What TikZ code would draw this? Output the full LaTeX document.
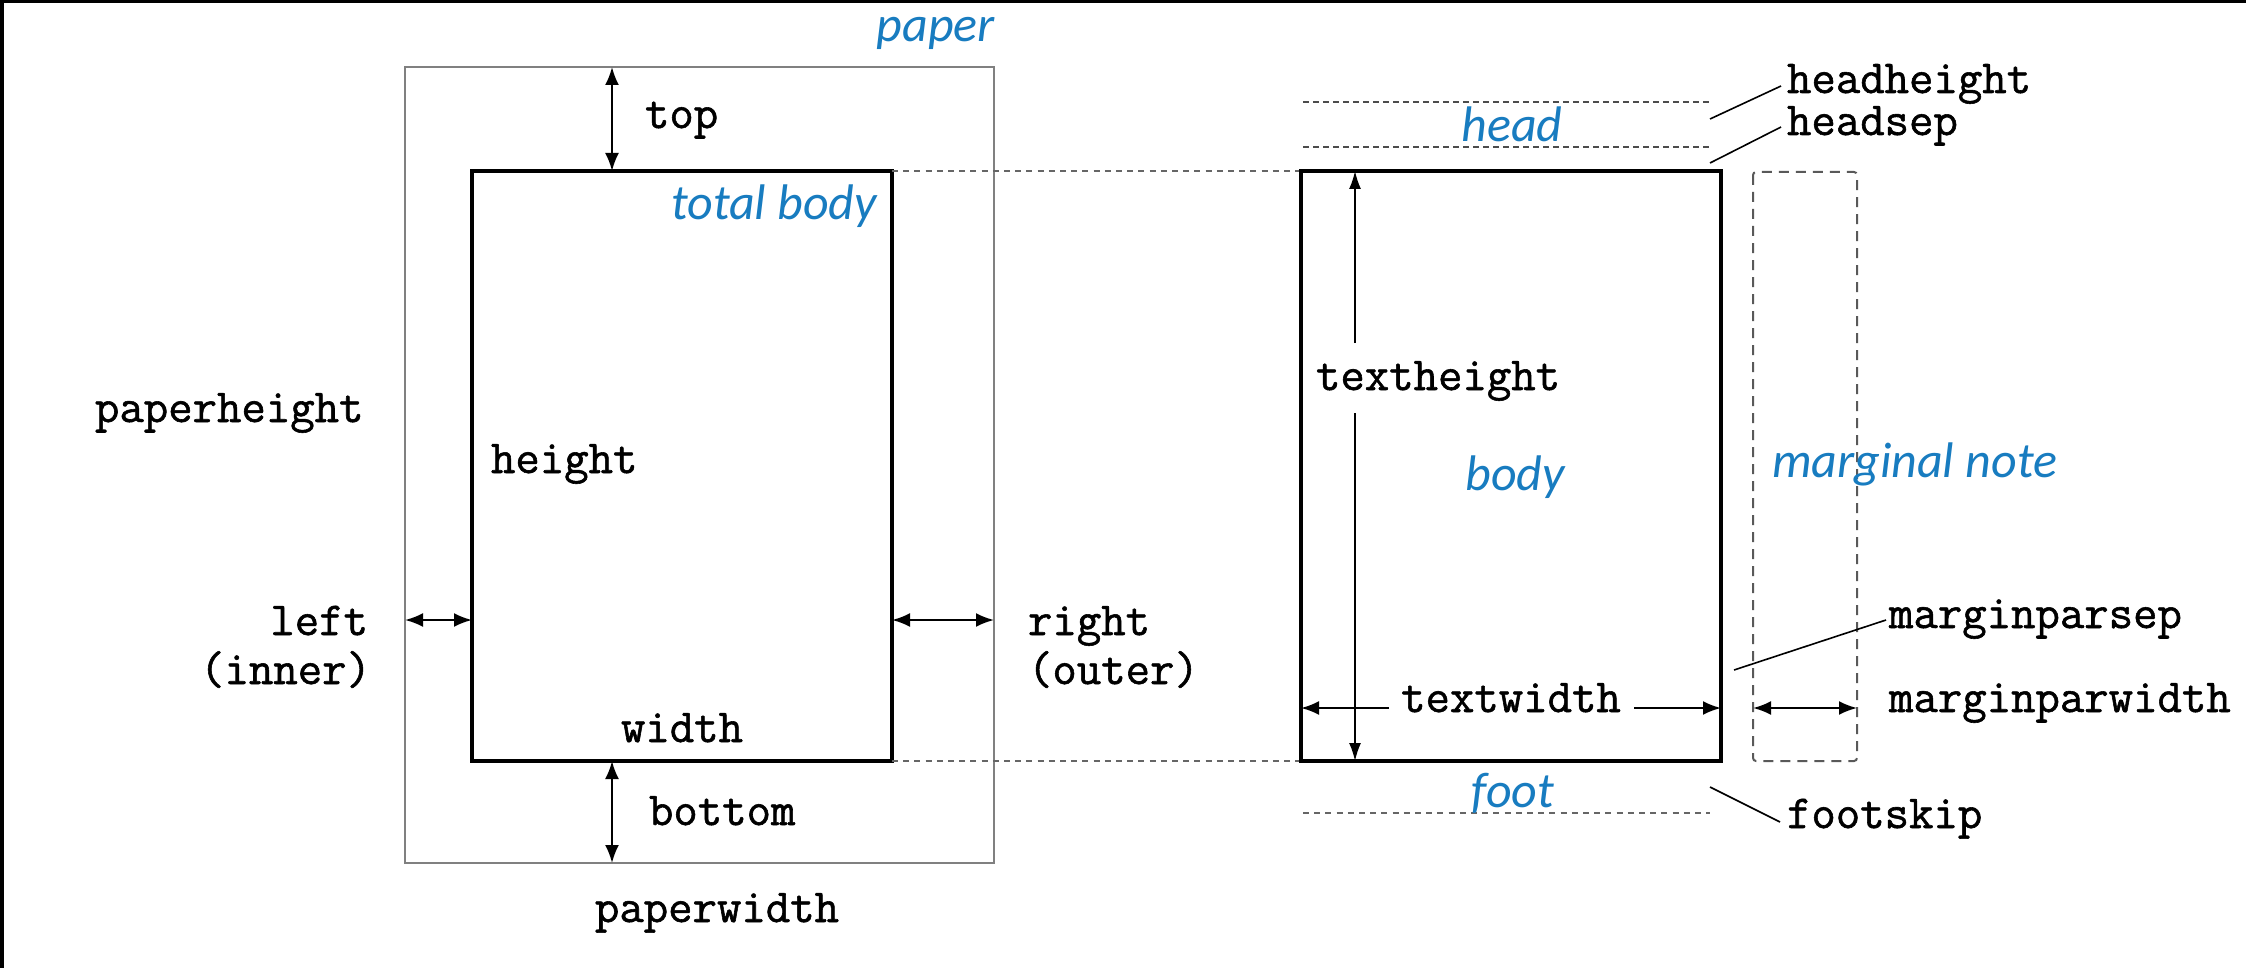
\documentclass[tikz,border=0pt]{standalone}
\usepackage{fontspec}
\usetikzlibrary{arrows.meta}
\newfontfamily\labelfont{Carlito}
\newfontfamily\ttlab{Latin Modern Mono}[FakeBold=1.2]
\definecolor{lblue}{RGB}{24,124,192}
\begin{document}
\begin{tikzpicture}[x=0.5pt,y=-0.5pt,
  tt/.style={font=\fontsize{23.7}{28}\selectfont\ttlab, inner sep=0pt, outer sep=0pt},
  blu/.style={font=\fontsize{25}{30}\selectfont\labelfont\itshape, text=lblue, inner sep=0pt, outer sep=0pt},
  paperline/.style={draw=black!50, line width=1.3pt},
  bodyline/.style={draw=black, line width=1.7pt},
  dotline/.style={draw=black!60, line width=1pt, dash pattern=on 3pt off 2.6pt},
  dashline/.style={draw=black!70, line width=1pt, dash pattern=on 3pt off 2pt},
  mbox/.style={draw=black!65, line width=1pt, dash pattern=on 5pt off 3.5pt, rounded corners=1.5pt},
  tip/.tip={Latex[length=9pt,width=7pt]},
  dim/.style={draw=black, line width=1.1pt, tip-tip},
  dimend/.style={draw=black, line width=1.1pt, -tip},
  thin/.style={draw=black, line width=0.8pt, -{Latex[length=9pt,width=6pt]}},
  leader/.style={draw=black, line width=0.8pt}
]
% frame and extent
\useasboundingbox (0,0) rectangle (2246,968);
\fill[white] (0,0) rectangle (2246,968);
\fill[black] (0,0) rectangle (2246,3);
\fill[black] (0,0) rectangle (3.5,968);

% corners
\coordinate (pTL) at (405,67);   \coordinate (pBR) at (994,863);
\coordinate (tTL) at (472,171);  \coordinate (tBR) at (892,761);
\coordinate (tTR) at (892,171);  \coordinate (tBL) at (472,761);
\coordinate (bTL) at (1301,171); \coordinate (bBR) at (1721,761);
\coordinate (bBL) at (1301,761);
\coordinate (mTL) at (1753,172); \coordinate (mBR) at (1857,761);

% left figure
\draw[paperline] (pTL) rectangle (pBR);
\draw[bodyline] (tTL) rectangle (tBR);

\coordinate (topA) at (612,67);   \coordinate (topB) at (612,171);
\coordinate (botA) at (612,761);  \coordinate (botB) at (612,863);
\coordinate (lefA) at (405,620);  \coordinate (lefB) at (472,620);
\coordinate (rigA) at (892,620);  \coordinate (rigB) at (994,620);
\draw[dim] (topA) -- (topB);
\draw[dim] (botA) -- (botB);
\draw[dim] (lefA) -- (lefB);
\draw[dim] (rigA) -- (rigB);

\node[blu, anchor=base east] (paper) at (995,42) {paper};
\node[blu, anchor=base east] (totalbody) at (877,220) {total body};
\node[tt, anchor=base west] (top) at (645,128) {top};
\node[tt, anchor=base west] (paperheight) at (95,422) {paperheight};
\node[tt, anchor=base west] (height) at (491,473) {height};
\node[tt, anchor=base east] (left) at (368,635) {left};
\node[tt, anchor=base east] (inner) at (371,684) {(inner)};
\node[tt, anchor=base west] (right) at (1028,635) {right};
\node[tt, anchor=base west] (outer) at (1028,684) {(outer)};
\node[tt, anchor=base] (width) at (682,742) {width};
\node[tt, anchor=base west] (bottom) at (649,825) {bottom};
\node[tt, anchor=base] (paperwidth) at (717,922) {paperwidth};

% connectors between the figures
\draw[dotline] (tTR) -- (bTL);
\draw[dotline] (tBR) -- (bBL);

% right figure
\draw[bodyline] (bTL) rectangle (bBR);
\draw[mbox] (mTL) rectangle (mBR);

\coordinate (hhA) at (1303,102); \coordinate (hhB) at (1710,102);
\coordinate (hsA) at (1303,147); \coordinate (hsB) at (1710,147);
\coordinate (ftA) at (1303,813); \coordinate (ftB) at (1710,813);
\draw[dashline] (hhA) -- (hhB);
\draw[dashline] (hsA) -- (hsB);
\draw[dotline] (ftA) -- (ftB);

\node[blu, anchor=base] (head) at (1512,142) {head};
\node[blu, anchor=base] (body) at (1515,490) {body};
\node[blu, anchor=base] (foot) at (1513,807) {foot};
\node[blu, anchor=base west] (marginal) at (1772,477) {marginal note};

\node[tt, anchor=base west] (headheight) at (1787,93) {headheight};
\node[tt, anchor=base west] (headsep) at (1787,135) {headsep};
\node[tt, anchor=base west] (textheight) at (1316,390) {textheight};
\node[tt, anchor=base] (textwidth) at (1511,712) {textwidth};
\node[tt, anchor=base west] (marginparsep) at (1889,628) {marginparsep};
\node[tt, anchor=base west] (marginparwidth) at (1889,712) {marginparwidth};
\node[tt, anchor=base west] (footskip) at (1787,828) {footskip};

% textheight arrow, broken round its label
\coordinate (thTop) at (1355,171); \coordinate (thGapT) at (1355,343);
\coordinate (thGapB) at (1355,413); \coordinate (thBot) at (1355,761);
\draw[thin] (thGapT) -- (thTop);
\draw[thin] (thGapB) -- (thBot);

% textwidth arrow, broken round its label
\coordinate (twL) at (1301,708); \coordinate (twGapL) at (1389,708);
\coordinate (twGapR) at (1634,708); \coordinate (twR) at (1721,708);
\draw[dimend] (twGapL) -- (twL);
\draw[dimend] (twGapR) -- (twR);

% marginparwidth arrow
\coordinate (mwA) at (1753,708); \coordinate (mwB) at (1857,708);
\draw[dim] (mwA) -- (mwB);

% leaders
\coordinate (lhhA) at (1710,119); \coordinate (lhhB) at (1781,86);
\coordinate (lhsA) at (1710,163); \coordinate (lhsB) at (1781,127);
\coordinate (lmsA) at (1734,670); \coordinate (lmsB) at (1886,620);
\coordinate (lfsA) at (1710,787); \coordinate (lfsB) at (1780,822);
\draw[leader] (lhhA) -- (lhhB);
\draw[leader] (lhsA) -- (lhsB);
\draw[leader] (lmsA) -- (lmsB);
\draw[leader] (lfsA) -- (lfsB);
\end{tikzpicture}
\end{document}
